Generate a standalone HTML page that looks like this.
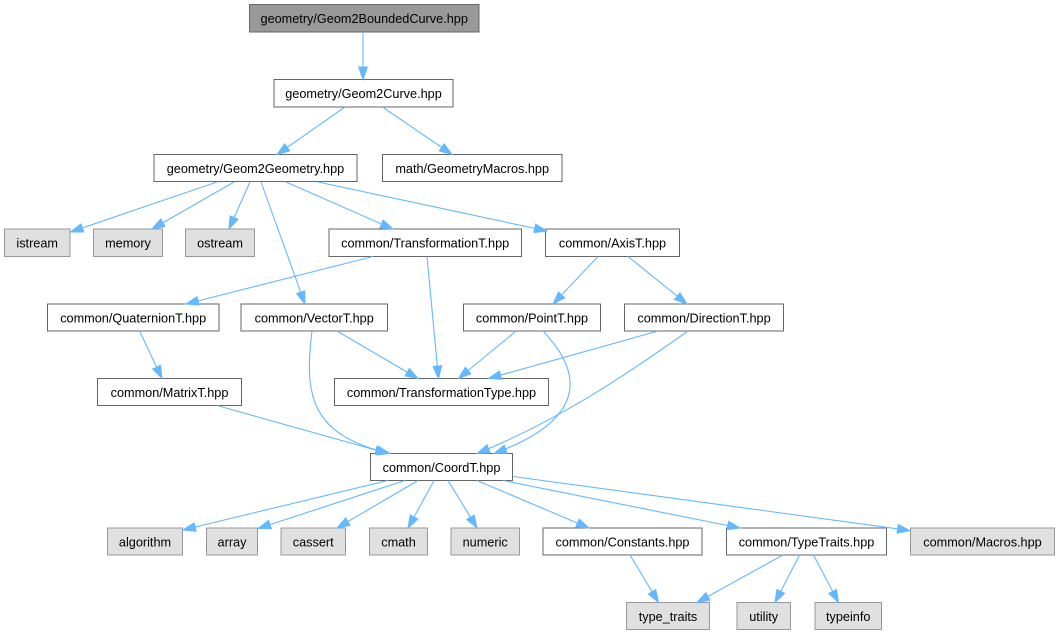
<!DOCTYPE html>
<html>
<head>
<meta charset="utf-8">
<style>
  html, body { margin: 0; padding: 0; background: #ffffff; }
  svg { display: block; }
  text { font-family: "Liberation Sans", Arial, sans-serif; font-size: 12.7px; fill: #000; text-anchor: middle; }
  .n rect { fill: #ffffff; stroke: #666666; stroke-width: 1; }
  .g rect { fill: #e0e0e0; stroke: #999999; stroke-width: 1; }
  .r rect { fill: #999999; stroke: #666666; stroke-width: 1; }
  .e path { fill: none; stroke: #63b8ff; stroke-width: 1.1; marker-end: url(#ah); }
</style>
</head>
<body>
<svg width="1060" height="635" viewBox="0 0 1060 635" xmlns="http://www.w3.org/2000/svg">
  <defs>
    <marker id="ah" markerUnits="userSpaceOnUse" markerWidth="16" markerHeight="12" refX="13" refY="5" orient="auto">
      <path d="M0,0.5 L13,5 L0,9.5 z" fill="#63b8ff" stroke="#63b8ff" stroke-width="1"/>
    </marker>
  </defs>
  <rect x="0" y="0" width="1060" height="635" fill="#ffffff"/>

  <!-- Nodes -->
  <g class="r"><rect x="249.5" y="4.5" width="229.5" height="27.5"/><text x="364.2" y="22.8">geometry/Geom2BoundedCurve.hpp</text></g>

  <g class="n"><rect x="274" y="79.5" width="179" height="27.5"/><text x="363.5" y="97.8">geometry/Geom2Curve.hpp</text></g>

  <g class="n"><rect x="154" y="154.5" width="203" height="27"/><text x="255.5" y="172.8">geometry/Geom2Geometry.hpp</text></g>
  <g class="n"><rect x="382.5" y="154.5" width="179.5" height="27"/><text x="472.2" y="172.8">math/GeometryMacros.hpp</text></g>

  <g class="g"><rect x="4.5" y="229" width="65.5" height="27.5"/><text x="37.2" y="247.3">istream</text></g>
  <g class="g"><rect x="93.5" y="229" width="69" height="27.5"/><text x="128" y="247.3">memory</text></g>
  <g class="g"><rect x="185.5" y="229" width="69" height="27.5"/><text x="220" y="247.3">ostream</text></g>
  <g class="n"><rect x="329" y="229" width="192.5" height="27.5"/><text x="425.2" y="247.3">common/TransformationT.hpp</text></g>
  <g class="n"><rect x="545.5" y="229" width="134" height="27.5"/><text x="612.5" y="247.3">common/AxisT.hpp</text></g>

  <g class="n"><rect x="47.5" y="304" width="171.5" height="27"/><text x="133.2" y="322.3">common/QuaternionT.hpp</text></g>
  <g class="n"><rect x="241" y="304" width="146.5" height="27"/><text x="314.2" y="322.3">common/VectorT.hpp</text></g>
  <g class="n"><rect x="463.5" y="304" width="137" height="27"/><text x="532" y="322.3">common/PointT.hpp</text></g>
  <g class="n"><rect x="624.5" y="304" width="159" height="27"/><text x="704" y="322.3">common/DirectionT.hpp</text></g>

  <g class="n"><rect x="97.5" y="378.5" width="144" height="27"/><text x="169.5" y="396.8">common/MatrixT.hpp</text></g>
  <g class="n"><rect x="334.5" y="378.5" width="214" height="27"/><text x="441.5" y="396.8">common/TransformationType.hpp</text></g>

  <g class="n"><rect x="370.5" y="453.5" width="142" height="27"/><text x="441.5" y="471.8">common/CoordT.hpp</text></g>

  <g class="g"><rect x="107.5" y="528" width="75" height="27"/><text x="145" y="546.3">algorithm</text></g>
  <g class="g"><rect x="206.5" y="528" width="51" height="27"/><text x="232" y="546.3">array</text></g>
  <g class="g"><rect x="281" y="528" width="64.5" height="27"/><text x="313.2" y="546.3">cassert</text></g>
  <g class="g"><rect x="369.5" y="528" width="58" height="27"/><text x="398.5" y="546.3">cmath</text></g>
  <g class="g"><rect x="451" y="528" width="68.5" height="27"/><text x="485.2" y="546.3">numeric</text></g>
  <g class="n"><rect x="543" y="528" width="159" height="27"/><text x="622.5" y="546.3">common/Constants.hpp</text></g>
  <g class="n"><rect x="726.5" y="528" width="160" height="27"/><text x="806.5" y="546.3">common/TypeTraits.hpp</text></g>
  <g class="g"><rect x="910.5" y="528" width="144" height="27"/><text x="982.5" y="546.3">common/Macros.hpp</text></g>

  <g class="g"><rect x="626.5" y="602.5" width="83" height="27"/><text x="668" y="620.8">type_traits</text></g>
  <g class="g"><rect x="737" y="602.5" width="53.5" height="27"/><text x="763.7" y="620.8">utility</text></g>
  <g class="g"><rect x="815" y="602.5" width="66.5" height="27"/><text x="848.2" y="620.8">typeinfo</text></g>

  <!-- Edges -->
  <g class="e">
    <path d="M363,32 L363,79.5"/>
    <path d="M345,107 L277,154.5"/>
    <path d="M382.5,107 L452,154.5"/>

    <path d="M217,182 L70.5,232"/>
    <path d="M234,182 L152,229"/>
    <path d="M250,182 L229,229"/>
    <path d="M261,182 L305,304"/>
    <path d="M286,182 L393,229"/>
    <path d="M318,182 L547,231"/>

    <path d="M373,256.5 L186,304"/>
    <path d="M427,256.5 L438.5,378.5"/>
    <path d="M598,256.5 L553,304"/>
    <path d="M628,256.5 L687,304"/>

    <path d="M139.5,331 L162,378.5"/>
    <path d="M337,331 L418,378.5"/>
    <path d="M312,331 C304,395 310,435 390,453.5"/>
    <path d="M516,331 L458.5,378.5"/>
    <path d="M543,331 C585,375 585,420 494,453.5"/>
    <path d="M658,331 L488.5,378.5"/>
    <path d="M688,331 C630,372 560,420 477,453.5"/>

    <path d="M217,405.5 L388,453.5"/>

    <path d="M388,480.5 L183,530"/>
    <path d="M405,480.5 L258,528.5"/>
    <path d="M418,480.5 L337,528"/>
    <path d="M434,480.5 L408,528"/>
    <path d="M448,480.5 L477,528"/>
    <path d="M477,480.5 L589,528"/>
    <path d="M503,480.5 L740,528"/>
    <path d="M513,476.5 L910,530.5"/>

    <path d="M630,555 L658.5,602.5"/>
    <path d="M783,555 L697,602.5"/>
    <path d="M799.5,555 L775,602.5"/>
    <path d="M813.5,555 L838.5,602.5"/>
  </g>
</svg>
</body>
</html>
